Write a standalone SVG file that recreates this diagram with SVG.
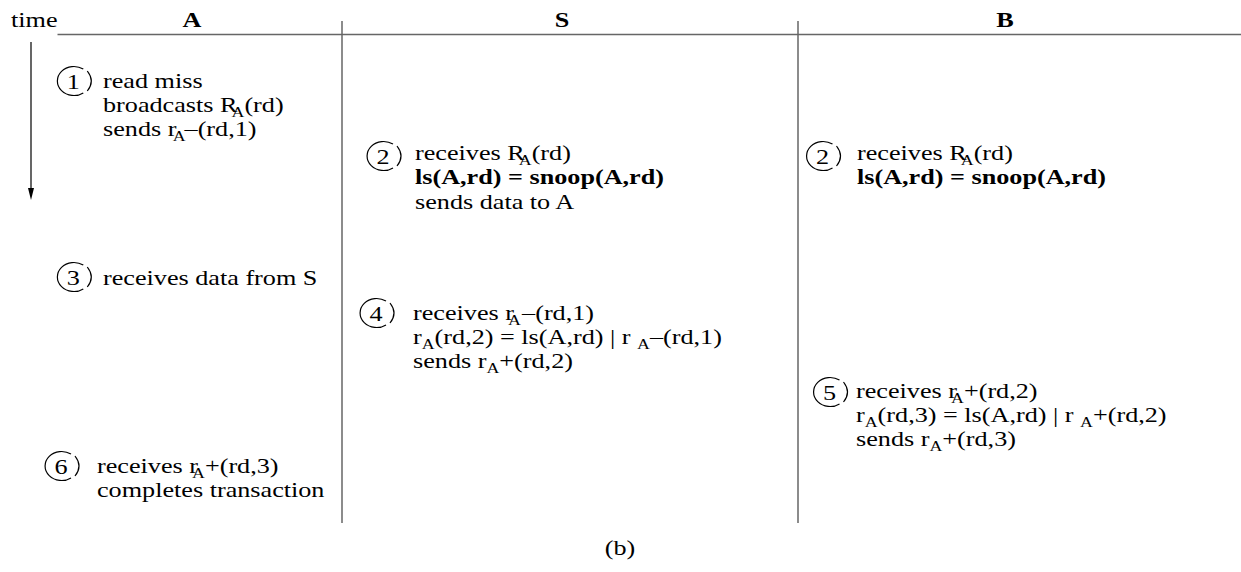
<svg xmlns="http://www.w3.org/2000/svg" width="1241" height="572" viewBox="0 0 1241 572">
  <style>
    text { font-family: "Liberation Serif", "Times New Roman", serif; font-size: 22px; fill: #000; }
    .hdr { font-weight: bold; text-anchor: middle; }
    .b { font-weight: bold; }
    .sub { font-size: 15px; }
    .num { text-anchor: middle; }
    .lane { stroke: #666; stroke-width: 1.5; fill: none; }
    .badge { stroke: #000; stroke-width: 1.2; fill: none; }
    .axis { stroke: #000; stroke-width: 1.2; fill: none; }
  </style>
  <defs>
    <!-- numbered step marker: round body open on the right, closed by a separate curve -->
    <g id="badge">
      <path class="badge" d="M 9.5 -11.9 A 16.5 14.5 0 1 0 9.5 11.9"/>
      <path class="badge" d="M 13.5 -10 Q 21.5 0 13.5 10"/>
    </g>
  </defs>

  <rect width="1241" height="572" fill="#fff"/>

  <!-- lane headers and separators -->
  <g id="lanes">
    <line class="lane" x1="57.5" y1="34.5" x2="1241" y2="34.5"/>
    <line class="lane" x1="342" y1="21" x2="342" y2="523"/>
    <line class="lane" x1="798" y1="21" x2="798" y2="523"/>
    <text transform="translate(11 27) scale(1.19 1)">time</text>
    <text class="hdr" transform="translate(192 27) scale(1.19 1)">A</text>
    <text class="hdr" transform="translate(562 27) scale(1.19 1)">S</text>
    <text class="hdr" transform="translate(1005 27) scale(1.19 1)">B</text>
  </g>

  <!-- time axis -->
  <g id="connectors">
    <line class="axis" x1="31" y1="42" x2="31" y2="190"/>
    <polygon points="28,188 34,188 31,200" fill="#000"/>
  </g>

  <!-- step 1 at A -->
  <g id="step1-A">
    <use href="#badge" x="73.8" y="81"/>
    <text class="num" transform="translate(73.3 88.5) scale(1.19 1)">1</text>
    <text transform="translate(103 88) scale(1.19 1)">
      <tspan x="0" y="0">read miss</tspan>
      <tspan x="0" y="24">broadcasts R<tspan class="sub" dx="-5" dy="5">A</tspan><tspan dy="-5">(rd)</tspan></tspan>
      <tspan x="0" y="48">sends r<tspan class="sub" dx="-3" dy="5">A</tspan><tspan dx="-1" dy="-5">–(rd,1)</tspan></tspan>
    </text>
  </g>

  <!-- step 2 at S -->
  <g id="step2-S">
    <use href="#badge" x="383.5" y="156"/>
    <text class="num" transform="translate(383 163.5) scale(1.19 1)">2</text>
    <text transform="translate(415 160) scale(1.19 1)">
      <tspan x="0" y="0">receives R<tspan class="sub" dx="-5" dy="5">A</tspan><tspan dy="-5">(rd)</tspan></tspan>
      <tspan class="b" x="0" y="24.5">ls(A,rd) = snoop(A,rd)</tspan>
      <tspan x="0" y="49">sends data to A</tspan>
    </text>
  </g>

  <!-- step 2 at B -->
  <g id="step2-B">
    <use href="#badge" x="823" y="156"/>
    <text class="num" transform="translate(822.5 163.5) scale(1.19 1)">2</text>
    <text transform="translate(857 160) scale(1.19 1)">
      <tspan x="0" y="0">receives R<tspan class="sub" dx="-5" dy="5">A</tspan><tspan dy="-5">(rd)</tspan></tspan>
      <tspan class="b" x="0" y="24.5">ls(A,rd) = snoop(A,rd)</tspan>
    </text>
  </g>

  <!-- step 3 at A -->
  <g id="step3-A">
    <use href="#badge" x="73.8" y="277"/>
    <text class="num" transform="translate(73.3 284.5) scale(1.19 1)">3</text>
    <text transform="translate(103 285) scale(1.19 1)">receives data from S</text>
  </g>

  <!-- step 4 at S -->
  <g id="step4-S">
    <use href="#badge" x="376.5" y="313"/>
    <text class="num" transform="translate(376 320.5) scale(1.19 1)">4</text>
    <text transform="translate(413 320) scale(1.19 1)">
      <tspan x="0" y="0">receives r<tspan class="sub" dx="-5" dy="5">A</tspan><tspan dx="1" dy="-5">–(rd,1)</tspan></tspan>
      <tspan x="0" y="24">r<tspan class="sub" dy="5">A</tspan><tspan dy="-5">(rd,2) = ls(A,rd) | r </tspan><tspan class="sub" dy="5">A</tspan><tspan dy="-5">–(rd,1)</tspan></tspan>
      <tspan x="0" y="48">sends r<tspan class="sub" dy="5">A</tspan><tspan dy="-5">+(rd,2)</tspan></tspan>
    </text>
  </g>

  <!-- step 5 at B -->
  <g id="step5-B">
    <use href="#badge" x="830" y="392"/>
    <text class="num" transform="translate(829.5 399.5) scale(1.19 1)">5</text>
    <text transform="translate(856 398) scale(1.19 1)">
      <tspan x="0" y="0">receives r<tspan class="sub" dx="-5" dy="5">A</tspan><tspan dy="-5">+(rd,2)</tspan></tspan>
      <tspan x="0" y="24">r<tspan class="sub" dy="5">A</tspan><tspan dy="-5">(rd,3) = ls(A,rd) | r </tspan><tspan class="sub" dy="5">A</tspan><tspan dy="-5">+(rd,2)</tspan></tspan>
      <tspan x="0" y="48">sends r<tspan class="sub" dy="5">A</tspan><tspan dy="-5">+(rd,3)</tspan></tspan>
    </text>
  </g>

  <!-- step 6 at A -->
  <g id="step6-A">
    <use href="#badge" x="61.5" y="466"/>
    <text class="num" transform="translate(61 473.5) scale(1.19 1)">6</text>
    <text transform="translate(97 473) scale(1.19 1)">
      <tspan x="0" y="0">receives r<tspan class="sub" dx="-5" dy="5">A</tspan><tspan dy="-5">+(rd,3)</tspan></tspan>
      <tspan x="0" y="24">completes transaction</tspan>
    </text>
  </g>

  <!-- caption -->
  <text class="num" transform="translate(620 555) scale(1.19 1)">(b)</text>
</svg>
